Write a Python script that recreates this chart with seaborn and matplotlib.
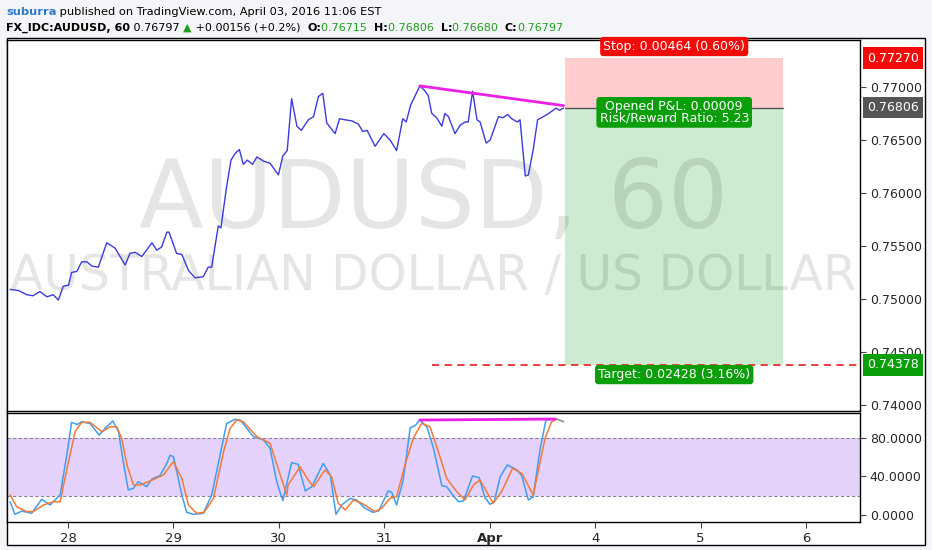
import matplotlib
matplotlib.use("Agg")
import matplotlib.pyplot as plt
import matplotlib.patches as mpatches
from matplotlib.transforms import IdentityTransform
import pandas as pd
import seaborn as sns

# hourly AUDUSD closes, x in hours from 28 Mar 00:00 (weekend skipped)
price_hours = [-13.2, -11.3, -9.4, -8.0, -6.4, -4.8, -3.4, -2.2, -1.1, 0.1, 0.8, 2.0, 3.1, 4.3,
               5.4, 6.9, 8.8, 10.7, 13.0, 14.1, 15.3, 16.8, 19.1, 20.2, 21.3, 22.5, 23.0, 24.7,
               25.9, 27.4, 28.9, 30.8, 31.9, 32.7, 34.2, 34.8, 36.1, 37.1, 38.0, 39.0, 39.9, 40.8,
               42.0, 43.0, 44.5, 46.0, 47.9, 48.9, 49.9, 50.9, 52.1, 53.1, 54.7, 55.9, 57.0, 58.0,
               58.9, 60.8, 61.8, 63.1, 64.6, 66.1, 67.1, 68.1, 69.9, 71.9, 73.3, 74.8, 76.2, 77.0,
               78.0, 80.1, 81.1, 82.0, 82.8, 83.9, 85.1, 85.8, 86.6, 88.1, 89.3, 90.4, 91.1, 92.1,
               93.1, 93.8, 95.2, 96.1, 98.0, 99.0, 100.1, 101.0, 102.3, 102.9, 104.1, 104.8, 105.9,
               106.9, 108.2, 109.4, 110.1, 111.1, 111.9, 112.8]
prices = [0.7509, 0.7508, 0.7504, 0.7503, 0.7507, 0.7502, 0.7504, 0.7499, 0.7512, 0.7513, 0.7525,
          0.7526, 0.7535, 0.7535, 0.7531, 0.7530, 0.7553, 0.7548, 0.7532, 0.7543, 0.7544, 0.7540,
          0.7553, 0.7546, 0.7549, 0.7563, 0.7563, 0.7543, 0.7542, 0.7527, 0.7520, 0.7521, 0.7530,
          0.7530, 0.7569, 0.7567, 0.7606, 0.7631, 0.7637, 0.7641, 0.7627, 0.7631, 0.7627, 0.7634,
          0.7630, 0.7628, 0.7617, 0.7635, 0.7640, 0.7689, 0.7663, 0.7659, 0.7669, 0.7672, 0.7691,
          0.7694, 0.7666, 0.7656, 0.7670, 0.7669, 0.7668, 0.7665, 0.7658, 0.7659, 0.7644, 0.7656,
          0.7650, 0.7640, 0.7670, 0.7667, 0.7683, 0.7701, 0.7697, 0.7692, 0.7675, 0.7671, 0.7663,
          0.7675, 0.7672, 0.7656, 0.7664, 0.7667, 0.7667, 0.7696, 0.7669, 0.7667, 0.7647, 0.7650,
          0.7672, 0.7671, 0.7674, 0.7670, 0.7667, 0.7669, 0.7616, 0.7617, 0.7641, 0.7669, 0.7672,
          0.7675, 0.7677, 0.7680, 0.7678, 0.7680]

# stochastic %K (blue) and %D (orange)
k_hours = [-13.2, -12.1, -10.5, -8.3, -6.0, -4.1, -3.0, -1.8, -0.3, 0.8, 2.1, 3.1, 5.0, 7.1, 8.4,
           10.2, 11.5, 12.5, 13.7, 14.9, 16.0, 17.9, 19.1, 20.9, 22.5, 23.2, 24.0, 25.9, 27.0, 28.5,
           30.8, 32.7, 34.6, 36.1, 36.9, 38.0, 39.2, 42.2, 44.5, 46.0, 47.5, 48.9, 50.9, 52.4, 54.0,
           55.5, 58.1, 59.7, 61.0, 62.3, 64.2, 65.7, 67.6, 69.4, 70.7, 72.9, 73.7, 74.8, 76.3, 77.9,
           79.0, 80.1, 81.7, 83.2, 85.1, 86.2, 87.7, 88.9, 90.0, 92.1, 93.6, 94.9, 96.1, 97.0, 98.4,
           100.0, 102.2, 103.3, 104.8, 105.9, 107.5, 108.8, 110.5]
k_values = [13.8, 0.7, 4.0, 1.7, 16.3, 10.4, 15.6, 20.8, 62.0, 96.3, 94.0, 97.0, 95.0, 83.0, 90.0,
            97.7, 86.6, 57.0, 26.0, 27.7, 34.6, 29.4, 37.4, 40.8, 53.7, 62.0, 60.6, 20.8, 2.8, 0.7,
            1.7, 20.8, 62.0, 95.0, 97.0, 99.4, 98.7, 81.4, 78.0, 69.3, 34.6, 14.9, 54.5, 52.6, 25.0,
            29.4, 53.7, 41.6, 0.7, 10.4, 17.3, 15.6, 7.0, 2.8, 4.2, 25.0, 23.6, 10.4, 36.4, 90.7,
            92.8, 98.7, 91.7, 69.3, 30.4, 29.4, 20.0, 13.8, 14.5, 40.5, 38.8, 18.0, 11.1, 13.8, 39.8,
            52.0, 46.8, 40.8, 15.6, 19.0, 69.3, 98.7, 99.7]
d_hours = [-13.2, -11.7, -9.4, -7.9, -5.6, -3.3, -1.8, -0.3, 1.6, 3.1, 5.0, 7.7, 9.6, 11.1, 12.2,
           13.4, 14.9, 16.4, 18.3, 21.7, 24.0, 25.9, 27.4, 29.3, 31.0, 33.1, 35.4, 36.9, 38.4, 39.9,
           43.0, 46.0, 48.3, 49.8, 50.1, 52.8, 54.7, 55.9, 58.5, 60.0, 61.5, 63.1, 65.0, 66.9, 69.9,
           71.4, 73.3, 74.8, 76.7, 78.6, 80.5, 82.4, 84.3, 86.2, 88.5, 90.4, 92.3, 93.8, 95.3, 96.8,
           98.7, 101.2, 103.3, 105.9, 108.6, 110.1, 111.3, 112.8]
d_values = [20.8, 8.6, 3.5, 3.5, 10.4, 13.8, 13.8, 46.8, 86.6, 96.3, 96.3, 86.6, 91.7, 91.7, 79.7,
            52.0, 31.2, 31.2, 34.6, 41.6, 55.4, 38.1, 10.4, 1.7, 2.8, 17.3, 65.8, 90.0, 98.7, 97.0,
            81.4, 74.5, 41.6, 20.8, 31.2, 50.0, 36.4, 29.4, 46.8, 39.8, 12.2, 5.2, 15.6, 12.2, 3.5,
            7.0, 17.3, 19.0, 52.0, 79.7, 95.3, 91.7, 65.8, 38.1, 24.2, 15.6, 31.2, 36.4, 24.2, 12.2,
            24.2, 48.5, 43.3, 20.8, 79.7, 97.0, 99.7, 97.0]

# user drawings
trend_hours = [80.1, 112.8]
trend_prices = [0.7701, 0.76824]
stoch_trend_hours = [80.1, 110.9]
stoch_trend_values = [98.7, 99.7]

# short position tool
entry_price = 0.76806
stop_price = 0.77270
target_price = 0.74378
position_hours = [113.2, 162.8]
target_line_start = 82.8

day_ticks = [0, 24, 48, 72, 96, 120, 144, 168]
day_labels = ["28", "29", "30", "31", "Apr", "4", "5", "6"]
price_ticks = [0.740, 0.745, 0.750, 0.755, 0.760, 0.765, 0.770]
stoch_ticks = [0, 40, 80]

W, H = 932, 550

sns.set_style("white")
plt.rcParams["font.family"] = ["DejaVu Sans"]

fig = plt.figure(figsize=(W / 100, H / 100), dpi=100, facecolor="#f3f5f8")

# outer chart frame (behind the axes)
fig.patches.append(mpatches.Rectangle((7 / W, 1 - 545 / H), 918 / W, 507 / H,
                                      transform=fig.transFigure, facecolor="white",
                                      edgecolor="black", lw=1, zorder=-5))

ax = fig.add_axes([7 / W, 1 - 411 / H, 853 / W, 371 / H])
ax2 = fig.add_axes([7 / W, 1 - 522 / H, 853 / W, 109 / H], sharex=ax)

xlim = (-13.9, 180.3)

# ---- price panel ----
ax.text(0.5, 0.493, "AUDUSD, 60", transform=ax.transAxes, fontsize=68, color="black",
        alpha=0.1, ha="center", va="baseline", zorder=1.5)
ax.text(0.5, 0.326, "AUSTRALIAN DOLLAR / US DOLLAR", transform=ax.transAxes, fontsize=35,
        color="black", alpha=0.1, ha="center", va="baseline", zorder=1.5)

ax.fill_between(position_hours, entry_price, stop_price, color="#ffcdcd", lw=0, zorder=1)
ax.fill_between(position_hours, target_price, entry_price, color="#cdebd0", lw=0, zorder=1)
ax.plot(position_hours, [entry_price, entry_price], color="#555555", lw=1, zorder=2)
ax.plot([target_line_start, xlim[1]], [target_price, target_price], color="#e8302e",
        lw=1.3, ls=(0, (4, 3)), zorder=2)

price_df = pd.DataFrame({"hour": price_hours, "price": prices})
sns.lineplot(data=price_df, x="hour", y="price", ax=ax, color="#3b3bdc", lw=1,
             estimator=None, sort=False, zorder=3)
ax.plot(trend_hours, trend_prices, color="#ec1fe6", lw=2, solid_capstyle="round", zorder=4)

box_mid = sum(position_hours) / 2
label_box = dict(boxstyle="round,pad=0.25,rounding_size=0.25", ec="none")
ax.annotate("Stop: 0.00464 (0.60%)", xy=(box_mid, stop_price), xytext=(0, 8.5),
            textcoords="offset points", ha="center", va="center", color="white", fontsize=9,
            bbox={**label_box, "fc": "#f50a0a"}, zorder=6)
ax.annotate("Opened P&L: 0.00009\nRisk/Reward Ratio: 5.23", xy=(box_mid, entry_price),
            xytext=(0, -3.5), textcoords="offset points", ha="center", va="center",
            color="white", fontsize=9, linespacing=0.85,
            bbox={**label_box, "fc": "#0a9e0a"}, zorder=6)
ax.annotate("Target: 0.02428 (3.16%)", xy=(box_mid, target_price), xytext=(0, -7),
            textcoords="offset points", ha="center", va="center", color="white", fontsize=9,
            bbox={**label_box, "fc": "#0a9e0a"}, zorder=6)

ax.set_xlim(*xlim)
ax.set_ylim(0.73943, 0.77443)
ax.yaxis.tick_right()
ax.set_yticks(price_ticks)
ax.set_yticklabels([f"{v:.5f}" for v in price_ticks])
ax.tick_params(axis="y", direction="out", length=4, width=0.8, color="#444444",
               labelsize=9, pad=3, right=True)
ax.tick_params(axis="x", bottom=False, labelbottom=False)
ax.set_xlabel("")
ax.set_ylabel("")

for val, fc in [(stop_price, "#f50a0a"), (entry_price, "#555555"), (target_price, "#0a9e0a")]:
    ax.annotate(f"{val:.5f}", xy=(1, val), xycoords=("axes fraction", "data"),
                xytext=(5, 0), textcoords="offset points", ha="left", va="center",
                color="white", fontsize=9,
                bbox=dict(boxstyle="square,pad=0.35", fc=fc, ec="none"),
                annotation_clip=False, zorder=6)

# ---- stochastic panel ----
ax2.axhspan(20, 80, color="#e4d2fb", lw=0, zorder=1)
for lvl in (20, 80):
    ax2.axhline(lvl, color="#8e7c9c", lw=0.8, ls=(0, (3, 2)), zorder=1.5)

stoch_df = pd.concat([
    pd.DataFrame({"hour": k_hours, "value": k_values, "line": "%K"}),
    pd.DataFrame({"hour": d_hours, "value": d_values, "line": "%D"}),
])
sns.lineplot(data=stoch_df, x="hour", y="value", hue="line", hue_order=["%K", "%D"],
             palette={"%K": "#3f9ef0", "%D": "#f07a3a"}, ax=ax2, lw=1.1,
             estimator=None, sort=False, legend=False, zorder=3)
ax2.plot(d_hours[-2:], d_values[-2:], color="#999999", lw=1.1, zorder=3.5)
ax2.plot(stoch_trend_hours, stoch_trend_values, color="#ec1fe6", lw=2, zorder=4)

ax2.set_xlim(*xlim)
ax2.set_ylim(-7.3, 106)
ax2.yaxis.tick_right()
ax2.set_yticks(stoch_ticks)
ax2.set_yticklabels([f"{v:.4f}" for v in stoch_ticks])
ax2.set_xticks(day_ticks)
ax2.set_xticklabels(day_labels)
ax2.get_xticklabels()[4].set_fontweight("bold")
ax2.tick_params(axis="y", direction="out", length=4, width=0.8, color="#444444",
                labelsize=9, pad=3, right=True)
ax2.tick_params(axis="x", direction="out", length=4, width=0.8, color="#444444",
                labelsize=9.5, pad=3, bottom=True)
ax2.set_xlabel("")
ax2.set_ylabel("")

for a in (ax, ax2):
    a.set_facecolor("white")
    for s in a.spines.values():
        s.set_color("black")
        s.set_linewidth(1)


# ---- header ----
def draw_runs(runs, x, y, size):
    renderer = fig.canvas.get_renderer()
    for text, color, weight in runs:
        t = fig.text(x, y, text, color=color, fontsize=size, fontweight=weight,
                     ha="left", va="baseline", transform=IdentityTransform())
        x = t.get_window_extent(renderer).x1


green = "#1f9e1f"
draw_runs([("suburra", "#2b7bc9", "bold"),
           (" published on TradingView.com, April 03, 2016 11:06 EST", "black", "normal")],
          6, H - 15, 8.2)
draw_runs([("FX_IDC:AUDUSD, 60", "black", "bold"),
           (" 0.76797 ", "black", "normal"),
           ("▲", green, "normal"),
           (" +0.00156 (+0.2%)  ", "black", "normal"),
           ("O:", "black", "bold"), ("0.76715  ", green, "normal"),
           ("H:", "black", "bold"), ("0.76806  ", green, "normal"),
           ("L:", "black", "bold"), ("0.76680  ", green, "normal"),
           ("C:", "black", "bold"), ("0.76797", green, "normal")],
          6, H - 31, 8.0)

fig.savefig("out.png", dpi=100, facecolor=fig.get_facecolor())
